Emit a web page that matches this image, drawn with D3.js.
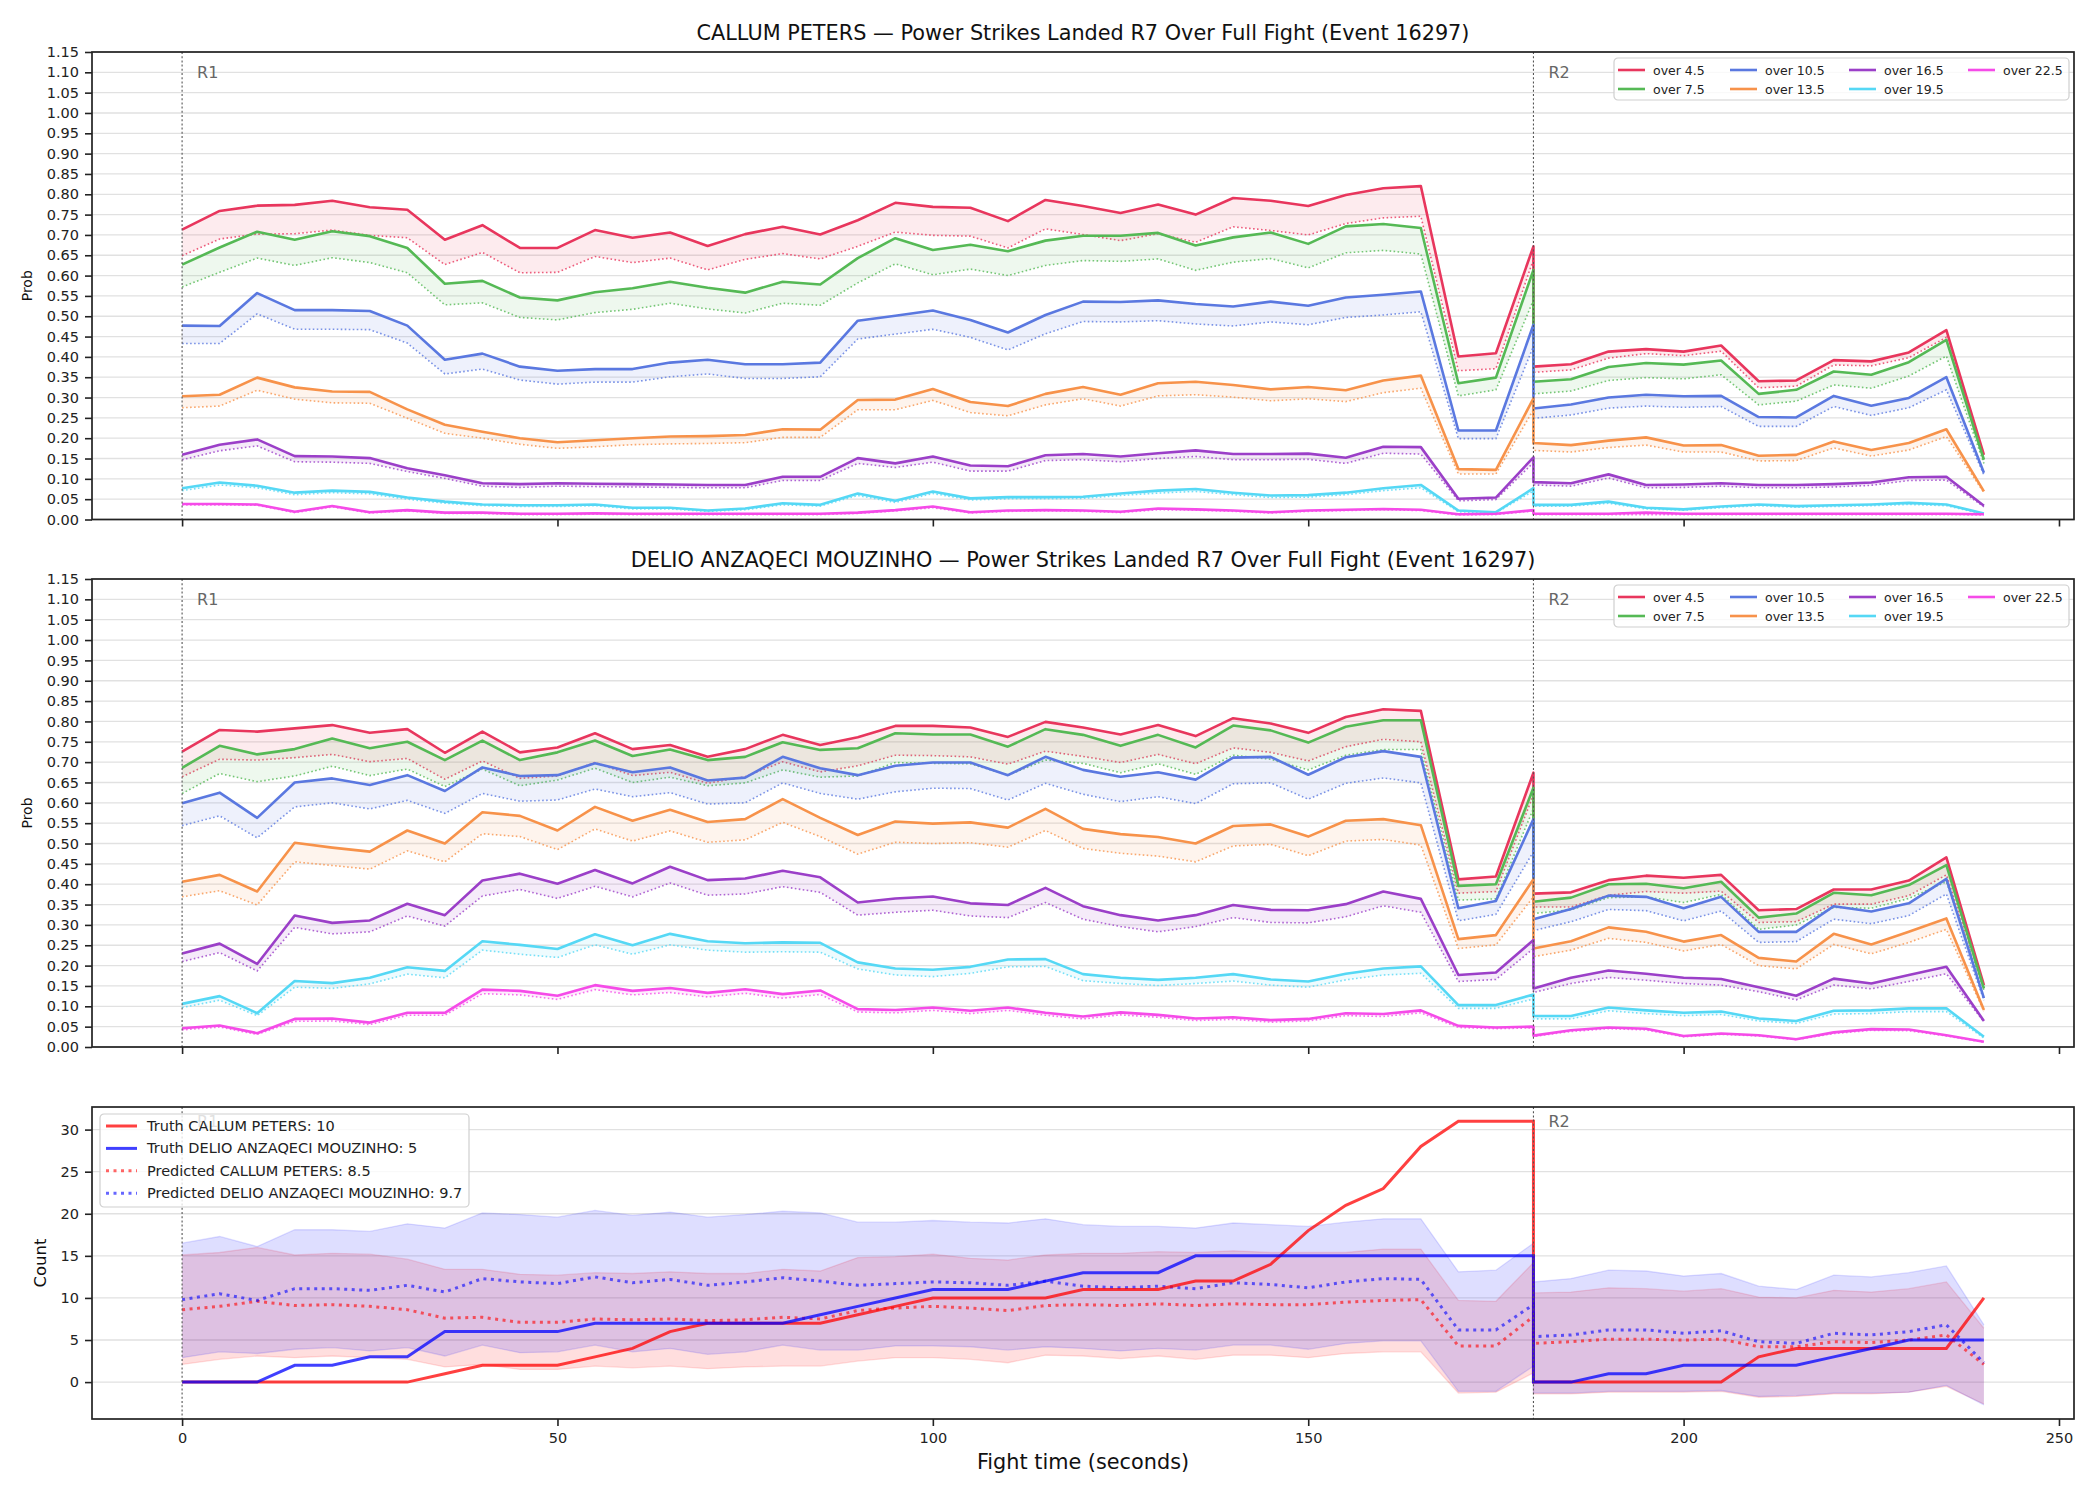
<!DOCTYPE html>
<html>
<head>
<meta charset="utf-8">
<script src="https://cdn.jsdelivr.net/npm/d3@7"></script>
<style>
  body { margin: 0; background: #fff; }
  svg text { font-family: "DejaVu Sans", sans-serif; }
</style>
</head>
<body>
<div id="chart"></div>
<script>
// time stamps (seconds); 180 appears twice: end of R1 and start of R2
const times = [0,5,10,15,20,25,30,35,40,45,50,55,60,65,70,75,80,85,90,95,100,105,110,115,120,125,130,135,140,145,150,155,160,165,170,175,180,
               180,185,190,195,200,205,210,215,220,225,230,235,240];
const xTicks = [0, 50, 100, 150, 200, 250];
const roundStarts = [0, 180];
const roundNames = ["R1", "R2"];
const lineNames = ["over 4.5", "over 7.5", "over 10.5", "over 13.5", "over 16.5", "over 19.5", "over 22.5"];
const lineColors = ["#e8365d", "#55b955", "#5a78e0", "#f7924a", "#9b3fc8", "#55d8f5", "#f54be8"];

// ---- CALLUM PETERS: solid (model) and dotted (lower) curves ----
const callum45 = [0.713,0.759,0.772,0.774,0.784,0.768,0.762,0.688,0.724,0.668,0.668,0.712,0.693,0.706,0.673,0.702,0.720,0.701,0.736,0.779,
  0.769,0.767,0.734,0.786,0.771,0.754,0.775,0.750,0.791,0.784,0.771,0.798,0.815,0.820,0.401,0.409,0.672,
  0.376,0.382,0.413,0.419,0.413,0.428,0.340,0.342,0.392,0.389,0.411,0.466,0.159];
const callum45Low = [0.649,0.690,0.702,0.703,0.712,0.699,0.693,0.627,0.657,0.607,0.608,0.647,0.632,0.643,0.614,0.640,0.654,0.641,0.672,0.707,
  0.699,0.697,0.668,0.715,0.701,0.686,0.703,0.682,0.720,0.711,0.700,0.728,0.742,0.746,0.366,0.371,0.640,
  0.362,0.368,0.397,0.408,0.403,0.414,0.324,0.328,0.380,0.378,0.398,0.448,0.150];
const callum75 = [0.627,0.669,0.708,0.688,0.709,0.697,0.668,0.580,0.587,0.546,0.539,0.559,0.569,0.585,0.570,0.558,0.585,0.578,0.643,0.692,
  0.663,0.676,0.660,0.686,0.698,0.698,0.705,0.674,0.694,0.706,0.678,0.721,0.727,0.717,0.335,0.349,0.614,
  0.339,0.345,0.375,0.385,0.381,0.391,0.309,0.319,0.364,0.356,0.387,0.442,0.147];
const callum75Low = [0.572,0.608,0.643,0.625,0.644,0.632,0.607,0.528,0.533,0.497,0.491,0.509,0.517,0.532,0.518,0.508,0.532,0.527,0.582,0.629,
  0.602,0.616,0.600,0.625,0.637,0.635,0.641,0.613,0.633,0.642,0.619,0.656,0.662,0.653,0.304,0.319,0.540,
  0.309,0.316,0.342,0.349,0.346,0.356,0.282,0.291,0.331,0.323,0.353,0.402,0.138];
const callum105 = [0.477,0.476,0.557,0.515,0.515,0.513,0.477,0.393,0.408,0.376,0.366,0.370,0.370,0.386,0.393,0.382,0.382,0.386,0.489,0.501,
  0.514,0.491,0.460,0.503,0.536,0.535,0.539,0.530,0.524,0.536,0.526,0.546,0.553,0.561,0.219,0.219,0.479,
  0.273,0.283,0.300,0.307,0.303,0.304,0.252,0.251,0.304,0.280,0.299,0.350,0.115];
const callum105Low = [0.433,0.433,0.506,0.468,0.468,0.467,0.434,0.358,0.370,0.343,0.333,0.338,0.338,0.351,0.358,0.347,0.347,0.351,0.444,0.456,
  0.468,0.448,0.417,0.457,0.487,0.486,0.489,0.481,0.476,0.486,0.479,0.497,0.503,0.511,0.199,0.199,0.426,
  0.249,0.257,0.274,0.279,0.276,0.278,0.229,0.229,0.278,0.256,0.275,0.319,0.110];
const callum135 = [0.303,0.307,0.349,0.325,0.315,0.314,0.271,0.233,0.216,0.200,0.190,0.195,0.200,0.204,0.205,0.208,0.222,0.221,0.294,0.295,
  0.321,0.289,0.279,0.309,0.326,0.307,0.335,0.339,0.331,0.320,0.326,0.318,0.342,0.354,0.124,0.122,0.298,
  0.188,0.183,0.194,0.202,0.182,0.183,0.157,0.159,0.192,0.171,0.188,0.222,0.069];
const callum135Low = [0.275,0.279,0.318,0.296,0.287,0.286,0.249,0.212,0.200,0.185,0.175,0.179,0.184,0.186,0.187,0.189,0.202,0.202,0.270,0.270,
  0.293,0.263,0.255,0.282,0.297,0.279,0.304,0.307,0.301,0.292,0.297,0.290,0.312,0.323,0.112,0.112,0.270,
  0.170,0.166,0.177,0.183,0.166,0.166,0.144,0.145,0.176,0.156,0.171,0.204,0.066];
const callum165 = [0.159,0.184,0.197,0.156,0.155,0.151,0.126,0.109,0.089,0.087,0.089,0.088,0.087,0.086,0.085,0.085,0.105,0.105,0.151,0.138,
  0.155,0.133,0.131,0.158,0.161,0.155,0.163,0.170,0.161,0.161,0.162,0.152,0.179,0.178,0.051,0.054,0.153,
  0.092,0.089,0.111,0.085,0.086,0.089,0.085,0.085,0.087,0.091,0.104,0.105,0.034];
const callum165Low = [0.147,0.169,0.181,0.142,0.141,0.138,0.118,0.101,0.082,0.079,0.082,0.081,0.080,0.079,0.078,0.078,0.096,0.096,0.138,0.128,
  0.141,0.119,0.119,0.145,0.147,0.142,0.150,0.155,0.147,0.147,0.148,0.138,0.163,0.161,0.046,0.049,0.140,
  0.085,0.082,0.102,0.078,0.079,0.082,0.078,0.078,0.080,0.084,0.096,0.097,0.031];
const callum195 = [0.077,0.091,0.083,0.066,0.071,0.068,0.054,0.044,0.037,0.035,0.035,0.037,0.029,0.029,0.022,0.027,0.040,0.036,0.064,0.046,
  0.069,0.052,0.055,0.055,0.056,0.064,0.071,0.075,0.066,0.059,0.060,0.066,0.077,0.085,0.022,0.018,0.077,
  0.036,0.036,0.044,0.029,0.025,0.032,0.037,0.033,0.035,0.037,0.041,0.037,0.015];
const callum195Low = [0.071,0.085,0.078,0.061,0.066,0.063,0.050,0.040,0.034,0.032,0.032,0.034,0.026,0.026,0.020,0.024,0.036,0.033,0.059,0.042,
  0.064,0.048,0.051,0.051,0.052,0.059,0.065,0.069,0.061,0.054,0.055,0.061,0.071,0.078,0.019,0.016,0.070,
  0.033,0.033,0.040,0.026,0.023,0.029,0.034,0.030,0.032,0.034,0.037,0.034,0.013];
const callum225 = [0.038,0.038,0.037,0.019,0.033,0.018,0.023,0.017,0.017,0.014,0.014,0.015,0.014,0.014,0.014,0.014,0.014,0.014,0.017,0.023,
  0.032,0.018,0.022,0.023,0.022,0.019,0.027,0.025,0.022,0.018,0.022,0.024,0.026,0.024,0.013,0.014,0.023,
  0.014,0.014,0.014,0.017,0.014,0.014,0.014,0.014,0.014,0.014,0.014,0.014,0.013];
const callum225Low = [0.036,0.036,0.035,0.017,0.031,0.016,0.021,0.015,0.015,0.012,0.012,0.013,0.012,0.012,0.012,0.012,0.012,0.012,0.015,0.021,
  0.029,0.016,0.020,0.021,0.020,0.017,0.024,0.023,0.020,0.016,0.020,0.022,0.024,0.022,0.011,0.012,0.021,
  0.012,0.012,0.012,0.012,0.012,0.012,0.012,0.012,0.012,0.012,0.012,0.012,0.011];

// ---- DELIO ANZAQECI MOUZINHO ----
const delio45 = [0.726,0.779,0.775,0.783,0.791,0.772,0.781,0.723,0.775,0.724,0.736,0.771,0.732,0.742,0.713,0.732,0.767,0.742,0.761,0.789,
  0.789,0.785,0.762,0.799,0.785,0.768,0.791,0.764,0.808,0.795,0.772,0.811,0.830,0.826,0.412,0.419,0.674,
  0.377,0.380,0.410,0.421,0.416,0.423,0.336,0.339,0.387,0.387,0.409,0.466,0.152];
const delio45Low = [0.664,0.707,0.705,0.711,0.719,0.701,0.709,0.658,0.703,0.660,0.666,0.699,0.667,0.675,0.648,0.664,0.701,0.676,0.691,0.717,
  0.716,0.713,0.695,0.727,0.714,0.699,0.719,0.696,0.735,0.724,0.703,0.738,0.756,0.750,0.378,0.382,0.620,
  0.344,0.344,0.373,0.382,0.378,0.383,0.306,0.308,0.351,0.351,0.372,0.423,0.144];
const delio75 = [0.686,0.740,0.719,0.732,0.758,0.734,0.750,0.705,0.753,0.705,0.724,0.753,0.715,0.731,0.705,0.713,0.749,0.730,0.734,0.771,
  0.768,0.768,0.738,0.781,0.767,0.740,0.767,0.736,0.790,0.778,0.748,0.787,0.803,0.803,0.396,0.400,0.637,
  0.357,0.367,0.400,0.401,0.390,0.406,0.318,0.328,0.379,0.373,0.398,0.447,0.144];
const delio75Low = [0.623,0.672,0.652,0.666,0.690,0.667,0.683,0.640,0.683,0.642,0.656,0.685,0.650,0.663,0.642,0.649,0.681,0.663,0.666,0.699,
  0.697,0.696,0.668,0.705,0.697,0.674,0.696,0.670,0.717,0.707,0.681,0.717,0.731,0.731,0.361,0.364,0.586,
  0.328,0.337,0.367,0.369,0.355,0.375,0.289,0.300,0.343,0.341,0.365,0.406,0.140];
const delio105 = [0.599,0.625,0.563,0.650,0.660,0.644,0.668,0.629,0.687,0.666,0.668,0.697,0.675,0.687,0.655,0.662,0.713,0.685,0.668,0.691,
  0.699,0.699,0.668,0.713,0.681,0.664,0.675,0.657,0.711,0.713,0.669,0.712,0.727,0.713,0.341,0.359,0.560,
  0.314,0.339,0.372,0.369,0.341,0.369,0.283,0.283,0.346,0.333,0.353,0.413,0.120];
const delio105Low = [0.544,0.568,0.514,0.590,0.600,0.585,0.606,0.574,0.623,0.604,0.607,0.634,0.615,0.625,0.597,0.600,0.649,0.623,0.609,0.627,
  0.636,0.635,0.607,0.648,0.621,0.603,0.615,0.598,0.647,0.649,0.609,0.648,0.661,0.649,0.310,0.326,0.480,
  0.286,0.308,0.338,0.335,0.310,0.334,0.257,0.259,0.314,0.303,0.323,0.376,0.115];
const delio135 = [0.406,0.423,0.382,0.502,0.490,0.480,0.532,0.500,0.577,0.568,0.532,0.590,0.556,0.583,0.553,0.560,0.609,0.563,0.521,0.554,
  0.549,0.552,0.539,0.585,0.536,0.523,0.516,0.500,0.543,0.547,0.517,0.556,0.560,0.545,0.265,0.275,0.412,
  0.242,0.260,0.294,0.283,0.259,0.275,0.219,0.210,0.278,0.252,0.283,0.316,0.091];
const delio135Low = [0.369,0.384,0.349,0.455,0.446,0.437,0.482,0.455,0.524,0.517,0.485,0.536,0.506,0.531,0.503,0.509,0.552,0.517,0.474,0.503,
  0.500,0.502,0.491,0.532,0.488,0.476,0.469,0.455,0.494,0.498,0.470,0.506,0.510,0.496,0.242,0.251,0.369,
  0.222,0.238,0.267,0.257,0.236,0.252,0.200,0.192,0.252,0.229,0.257,0.289,0.088];
const delio165 = [0.230,0.254,0.204,0.323,0.305,0.311,0.352,0.324,0.409,0.426,0.401,0.435,0.402,0.443,0.410,0.414,0.433,0.417,0.355,0.365,
  0.370,0.353,0.349,0.391,0.346,0.324,0.311,0.324,0.349,0.337,0.336,0.351,0.382,0.364,0.177,0.183,0.263,
  0.144,0.170,0.188,0.180,0.170,0.167,0.147,0.126,0.168,0.156,0.177,0.197,0.064];
const delio165Low = [0.210,0.232,0.187,0.294,0.278,0.283,0.322,0.297,0.371,0.387,0.365,0.395,0.369,0.403,0.373,0.376,0.394,0.380,0.324,0.331,
  0.336,0.322,0.318,0.355,0.314,0.296,0.283,0.296,0.318,0.306,0.305,0.320,0.347,0.331,0.161,0.166,0.242,
  0.134,0.156,0.171,0.164,0.156,0.152,0.136,0.116,0.152,0.143,0.161,0.180,0.062];
const delio195 = [0.106,0.125,0.083,0.162,0.157,0.170,0.196,0.187,0.260,0.251,0.241,0.277,0.250,0.278,0.260,0.255,0.257,0.256,0.208,0.193,
  0.190,0.197,0.215,0.216,0.179,0.170,0.165,0.170,0.179,0.166,0.161,0.180,0.193,0.198,0.103,0.103,0.129,
  0.076,0.076,0.097,0.090,0.084,0.087,0.070,0.064,0.089,0.090,0.095,0.095,0.025];
const delio195Low = [0.097,0.115,0.077,0.147,0.144,0.155,0.179,0.170,0.238,0.228,0.220,0.251,0.228,0.251,0.238,0.233,0.234,0.233,0.192,0.177,
  0.173,0.181,0.197,0.198,0.163,0.156,0.151,0.156,0.162,0.152,0.147,0.165,0.177,0.181,0.095,0.095,0.118,
  0.069,0.069,0.089,0.082,0.077,0.080,0.064,0.058,0.081,0.082,0.087,0.087,0.022];
const delio225 = [0.046,0.053,0.034,0.069,0.070,0.060,0.084,0.084,0.141,0.138,0.126,0.152,0.138,0.145,0.133,0.142,0.130,0.139,0.093,0.091,
  0.097,0.089,0.097,0.084,0.075,0.085,0.079,0.070,0.073,0.066,0.069,0.083,0.081,0.090,0.052,0.048,0.050,
  0.028,0.041,0.048,0.045,0.027,0.033,0.029,0.019,0.036,0.044,0.043,0.029,0.013];
const delio225Low = [0.042,0.049,0.031,0.063,0.064,0.055,0.078,0.078,0.131,0.128,0.117,0.141,0.128,0.134,0.123,0.132,0.120,0.129,0.086,0.084,
  0.090,0.082,0.090,0.078,0.069,0.079,0.073,0.065,0.068,0.061,0.064,0.077,0.075,0.084,0.048,0.045,0.047,
  0.026,0.038,0.045,0.042,0.025,0.031,0.027,0.018,0.033,0.041,0.040,0.027,0.012];

// ---- counts panel ----
const truthCallum = [0,0,0,0,0,0,0,1,2,2,2,3,4,6,7,7,7,7,8,9,10,10,10,10,11,11,11,12,12,14,18,21,23,28,31,31,31,
  0,0,0,0,0,0,3,4,4,4,4,4,10];
const truthDelio = [0,0,0,2,2,3,3,6,6,6,6,7,7,7,7,7,7,8,9,10,11,11,11,12,13,13,13,15,15,15,15,15,15,15,15,15,15,
  0,0,1,1,2,2,2,2,3,4,5,5,5];
const predCallum = [8.6,9.0,9.6,9.1,9.2,9.0,8.6,7.6,7.7,7.1,7.1,7.5,7.4,7.5,7.3,7.4,7.7,7.5,8.5,8.8,9.0,8.8,8.5,9.1,9.2,9.1,9.3,9.1,9.3,9.2,9.2,9.5,9.7,9.8,4.3,4.3,7.8,
  4.6,4.8,5.1,5.1,5.0,5.1,4.2,4.2,4.8,4.7,5.0,5.6,2.1];
const predDelio = [9.8,10.5,9.7,11.1,11.1,10.9,11.5,10.7,12.3,11.9,11.7,12.5,11.8,12.2,11.5,11.9,12.4,12.0,11.5,11.7,11.9,11.8,11.5,12.0,11.4,11.2,11.4,11.1,11.8,11.6,11.2,11.9,12.3,12.2,6.2,6.2,9.2,
  5.4,5.6,6.2,6.2,5.8,6.1,4.8,4.6,5.8,5.6,6.0,6.8,2.3];
const callumHigh = [15.1,15.4,16.0,15.1,15.3,15.2,14.6,13.4,13.4,12.8,12.7,13.0,12.9,13.1,12.9,12.9,13.4,13.2,14.8,14.9,15.2,14.7,14.5,15.1,15.3,15.3,15.5,15.4,15.6,15.4,15.4,15.4,15.8,15.8,9.7,9.6,14.2,
  10.6,10.7,11.2,11.1,10.8,11.1,10.1,10.0,10.9,10.7,11.1,11.9,6.4];
const callumLow = [2.1,2.7,3.1,2.9,3.1,2.9,2.7,1.8,2.1,1.5,1.5,1.9,1.7,1.9,1.6,1.8,1.9,1.9,2.5,2.9,2.9,2.7,2.3,3.2,3.1,2.8,3.1,2.7,3.2,3.2,2.9,3.4,3.6,3.6,-1.3,-1.2,1.1,
  -1.4,-1.4,-1.2,-1.2,-1.2,-1.1,-1.8,-1.7,-1.4,-1.4,-1.2,-0.5,-2.6];
const delioHigh = [16.5,17.3,16.1,18.1,18.1,17.9,18.8,18.3,20.1,19.9,19.6,20.4,19.8,20.2,19.6,19.9,20.3,20.1,19.0,19.0,19.2,19.0,18.9,19.4,18.7,18.5,18.5,18.3,18.9,18.7,18.5,19.0,19.4,19.4,13.1,13.3,16.5,
  11.9,12.3,13.3,13.2,12.6,12.9,11.4,11.0,12.7,12.5,13.0,13.8,6.8];
const delioLow = [2.9,3.6,3.4,3.9,4.1,3.7,4.1,3.1,4.4,3.5,3.6,4.4,3.6,4.0,3.3,3.6,4.4,3.8,3.8,4.3,4.3,4.2,3.8,4.2,4.0,3.7,4.0,3.8,4.4,4.4,3.9,4.6,4.9,4.9,-1.1,-1.1,1.9,
  -1.3,-1.3,-1.1,-1.1,-1.1,-1.0,-1.7,-1.6,-1.3,-1.3,-1.2,-0.4,-2.7];

const callumSolid = [callum45, callum75, callum105, callum135, callum165, callum195, callum225];
const callumDotted = [callum45Low, callum75Low, callum105Low, callum135Low, callum165Low, callum195Low, callum225Low];
const delioSolid = [delio45, delio75, delio105, delio135, delio165, delio195, delio225];
const delioDotted = [delio45Low, delio75Low, delio105Low, delio135Low, delio165Low, delio195Low, delio225Low];

// ---------------------------------------------------------------
const W = 2100, H = 1500;
const left = 92, right = 2074;

const svg = d3.select("#chart").append("svg")
    .attr("width", W)
    .attr("height", H);
svg.append("rect").attr("width", W).attr("height", H).attr("fill", "#fff");

const x = d3.scaleLinear().domain([-12, 252]).range([left, right]);

function frame(g, y, top, bottom, yTicks, yFmt, showXLabels, id) {
    // horizontal grid
    g.append("g").selectAll("line").data(yTicks).join("line")
        .attr("x1", left).attr("x2", right)
        .attr("y1", d => y(d)).attr("y2", d => y(d))
        .attr("stroke", "#e1e1e1").attr("stroke-width", 1.3);

    g.append("clipPath").attr("id", id)
        .append("rect")
        .attr("x", left).attr("y", top)
        .attr("width", right - left).attr("height", bottom - top);
}

function axes(g, y, top, bottom, yTicks, yFmt, showXLabels) {
    let yAxis = d3.axisLeft(y).tickValues(yTicks).tickFormat(yFmt).tickSize(7).tickPadding(6);
    let ya = g.append("g").attr("transform", "translate(" + left + ",0)").call(yAxis);
    ya.select(".domain").remove();
    ya.selectAll("line").attr("stroke", "#222").attr("stroke-width", 1.6);
    ya.selectAll("text").style("font-size", "14.5px").attr("fill", "#222");

    let xAxis = d3.axisBottom(x).tickValues(xTicks).tickSize(7).tickPadding(7)
        .tickFormat(showXLabels ? d3.format("d") : () => "");
    let xa = g.append("g").attr("transform", "translate(0," + bottom + ")").call(xAxis);
    xa.select(".domain").remove();
    xa.selectAll("line").attr("stroke", "#222").attr("stroke-width", 1.6);
    xa.selectAll("text").style("font-size", "14.5px").attr("fill", "#222");

    g.append("rect")
        .attr("x", left).attr("y", top)
        .attr("width", right - left).attr("height", bottom - top)
        .attr("fill", "none").attr("stroke", "#222").attr("stroke-width", 1.7);
}

function roundMarks(g, y, top, bottom, ymax, id) {
    let m = g.append("g").attr("clip-path", "url(#" + id + ")");
    m.selectAll("line").data(roundStarts).join("line")
        .attr("x1", d => x(d)).attr("x2", d => x(d))
        .attr("y1", top).attr("y2", bottom)
        .attr("stroke", "#555").attr("stroke-width", 1.1)
        .attr("stroke-dasharray", "2,2.2");
    m.selectAll("text").data(roundStarts).join("text")
        .attr("x", d => x(d + 2))
        .attr("y", y(ymax * 0.97) + 12)
        .style("font-size", "16px")
        .attr("fill", "#666")
        .text((d, i) => roundNames[i]);
}

function probPanel(top, bottom, title, solids, dots, id) {
    let g = svg.append("g");
    let y = d3.scaleLinear().domain([0, 1.15]).range([bottom, top]);
    let yTicks = y.ticks(23);
    frame(g, y, top, bottom, yTicks, null, false, id);

    let line = d3.line().x((d, i) => x(times[i])).y(d => y(d));
    let plot = g.append("g").attr("clip-path", "url(#" + id + ")");

    solids.forEach((s, k) => {
        let area = d3.area()
            .x((d, i) => x(times[i]))
            .y0((d, i) => y(dots[k][i]))
            .y1(d => y(d));
        plot.append("path").datum(s)
            .attr("d", area)
            .attr("fill", lineColors[k]).attr("fill-opacity", 0.1);
        plot.append("path").datum(dots[k])
            .attr("d", line)
            .attr("fill", "none")
            .attr("stroke", lineColors[k]).attr("stroke-opacity", 0.8)
            .attr("stroke-width", 1.6)
            .attr("stroke-dasharray", "1.6,2.4");
        plot.append("path").datum(s)
            .attr("d", line)
            .attr("fill", "none")
            .attr("stroke", lineColors[k])
            .attr("stroke-width", 2.6)
            .attr("stroke-linejoin", "round");
    });

    roundMarks(g, y, top, bottom, 1.15, id);
    axes(g, y, top, bottom, yTicks, d3.format(".2f"), false);

    g.append("text")
        .attr("x", (left + right) / 2).attr("y", top - 12.5)
        .attr("text-anchor", "middle")
        .style("font-size", "20.8px").attr("fill", "#111")
        .text(title);
    g.append("text")
        .attr("transform", "translate(32," + (top + bottom) / 2 + ") rotate(-90)")
        .attr("text-anchor", "middle")
        .style("font-size", "14px").attr("fill", "#111")
        .text("Prob");

    // legend, 4 columns filled column-wise
    let lg = g.append("g").attr("transform", "translate(1614," + (top + 6) + ")");
    lg.append("rect")
        .attr("width", 455).attr("height", 42).attr("rx", 4)
        .attr("fill", "#fff").attr("fill-opacity", 0.8)
        .attr("stroke", "#cfcfcf").attr("stroke-width", 1.2);
    let colX = [4, 116, 235, 354];
    let items = lg.selectAll("g.item").data(lineNames).join("g")
        .attr("class", "item")
        .attr("transform", (d, i) => "translate(" + colX[Math.floor(i / 2)] + "," + (i % 2 === 0 ? 12 : 31) + ")");
    items.append("line")
        .attr("x1", 0).attr("x2", 27)
        .attr("stroke", (d, i) => lineColors[i]).attr("stroke-width", 2.6);
    items.append("text")
        .attr("x", 35).attr("y", 4.5)
        .style("font-size", "12.5px").attr("fill", "#222")
        .text(d => d);
}

probPanel(52, 519.5, "CALLUM PETERS \u2014 Power Strikes Landed R7 Over Full Fight (Event 16297)", callumSolid, callumDotted, "clipA");
probPanel(579, 1047, "DELIO ANZAQECI MOUZINHO \u2014 Power Strikes Landed R7 Over Full Fight (Event 16297)", delioSolid, delioDotted, "clipB");

// ---- counts panel ----
(function () {
    let top = 1107, bottom = 1419;
    let g = svg.append("g");
    let ext = d3.extent([].concat(truthCallum, truthDelio, callumHigh, callumLow, delioHigh, delioLow));
    let pad = (ext[1] - ext[0]) * 0.05;
    let y = d3.scaleLinear().domain([ext[0] - pad, ext[1] + pad]).range([bottom, top]);
    let yTicks = y.ticks(10);
    frame(g, y, top, bottom, yTicks, null, true, "clipC");

    let plot = g.append("g").attr("clip-path", "url(#clipC)");
    let line = d3.line().x((d, i) => x(times[i])).y(d => y(d));

    let bands = [
        { hi: callumHigh, lo: callumLow, color: "#ff0000" },
        { hi: delioHigh, lo: delioLow, color: "#0000ff" }
    ];
    bands.forEach(b => {
        let area = d3.area().x((d, i) => x(times[i])).y0((d, i) => y(b.lo[i])).y1(d => y(d));
        plot.append("path").datum(b.hi).attr("d", area)
            .attr("fill", b.color).attr("fill-opacity", 0.13);
        [b.hi, b.lo].forEach(edge => {
            plot.append("path").datum(edge).attr("d", line)
                .attr("fill", "none").attr("stroke", b.color)
                .attr("stroke-opacity", 0.13).attr("stroke-width", 1.3);
        });
    });

    let series = [
        { v: truthCallum, color: "#ff0000", op: 0.75, dash: null, label: "Truth CALLUM PETERS: 10" },
        { v: truthDelio, color: "#0000ff", op: 0.75, dash: null, label: "Truth DELIO ANZAQECI MOUZINHO: 5" },
        { v: predCallum, color: "#ff0000", op: 0.6, dash: "3,4.5", label: "Predicted CALLUM PETERS: 8.5" },
        { v: predDelio, color: "#0000ff", op: 0.6, dash: "3,4.5", label: "Predicted DELIO ANZAQECI MOUZINHO: 9.7" }
    ];
    [2, 3, 0, 1].forEach(k => {
        let s = series[k];
        plot.append("path").datum(s.v).attr("d", line)
            .attr("fill", "none")
            .attr("stroke", s.color).attr("stroke-opacity", s.op)
            .attr("stroke-width", 3)
            .attr("stroke-dasharray", s.dash);
    });

    roundMarks(g, y, top, bottom, y.domain()[1], "clipC");
    axes(g, y, top, bottom, yTicks, d3.format("d"), true);

    g.append("text")
        .attr("transform", "translate(46," + (top + bottom) / 2 + ") rotate(-90)")
        .attr("text-anchor", "middle")
        .style("font-size", "16.5px").attr("fill", "#111")
        .text("Count");
    g.append("text")
        .attr("x", (left + right) / 2).attr("y", 1469)
        .attr("text-anchor", "middle")
        .style("font-size", "20.8px").attr("fill", "#111")
        .text("Fight time (seconds)");

    let lg = g.append("g").attr("transform", "translate(100,1114)");
    lg.append("rect")
        .attr("width", 369).attr("height", 93).attr("rx", 4)
        .attr("fill", "#fff").attr("fill-opacity", 0.8)
        .attr("stroke", "#cfcfcf").attr("stroke-width", 1.2);
    let items = lg.selectAll("g.item").data(series).join("g")
        .attr("class", "item")
        .attr("transform", (d, i) => "translate(6," + (12 + i * 22.4) + ")");
    items.append("line")
        .attr("x1", 0).attr("x2", 31)
        .attr("stroke", d => d.color).attr("stroke-opacity", d => d.op)
        .attr("stroke-width", 3)
        .attr("stroke-dasharray", d => d.dash);
    items.append("text")
        .attr("x", 41).attr("y", 5)
        .style("font-size", "14.5px").attr("fill", "#222")
        .text(d => d.label);
})();
</script>
</body>
</html>
